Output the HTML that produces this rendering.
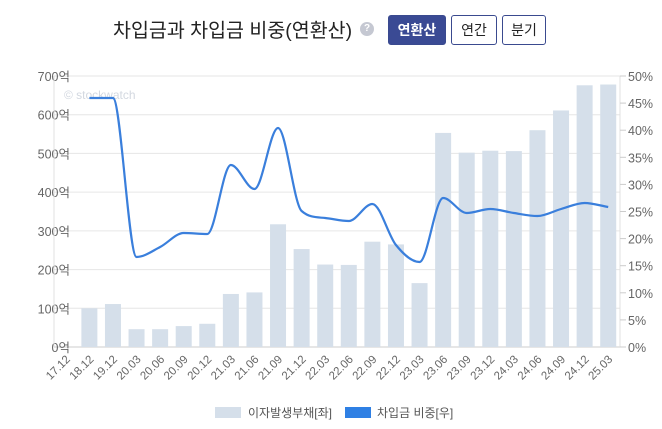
<!DOCTYPE html>
<html><head><meta charset="utf-8"><style>
body{margin:0;background:#fff;width:662px;height:429px;overflow:hidden;font-family:"Liberation Sans","Noto Sans CJK KR",sans-serif;}
.t{position:absolute;left:113px;top:14px;font-size:19.5px;color:#222;white-space:nowrap}
.q{position:absolute;left:360px;top:22px;width:14px;height:14px;border-radius:50%;background:#c5c8d2;color:#fff;font-size:10px;text-align:center;line-height:14px;font-weight:bold}
.b{position:absolute;top:15px;height:30px;border:1px solid #3a4a8f;border-radius:3px;box-sizing:border-box;font-size:14px;line-height:28px;text-align:center;color:#222;background:#fff}
</style></head><body>
<div class="t">차입금과 차입금 비중(연환산)</div>
<div class="q">?</div>
<div class="b" style="left:388px;width:58px;background:#3a4a94;color:#fff;font-weight:bold">연환산</div>
<div class="b" style="left:451px;width:46px">연간</div>
<div class="b" style="left:502px;width:44px">분기</div>
<svg id="s" width="662" height="429" style="position:absolute;left:0;top:0" font-family="Liberation Sans, Noto Sans CJK KR, sans-serif"></svg>
<script>
var s=document.getElementById('s'),h='';
var L=54,R=620,T=76,B=347,cw=(R-L)/24;
for(var i=0;i<=7;i++){var y=B-i*(B-T)/7;h+='<line x1="'+L+'" x2="'+R+'" y1="'+y+'" y2="'+y+'" stroke="'+(i==0?'#ccc':'#e6e6e6')+'"/>';
h+='<text x="70" y="'+(y+5)+'" font-size="12.5" fill="#666" text-anchor="end">'+(i*100)+'억</text>';}
h+='<line x1="'+L+'" x2="'+L+'" y1="'+T+'" y2="'+B+'" stroke="#e0e0e0"/><line x1="'+R+'" x2="'+R+'" y1="'+T+'" y2="'+B+'" stroke="#e0e0e0"/>';
for(var i=0;i<=10;i++){var y=B-i*(B-T)/10;h+='<line x1="'+R+'" x2="'+(R+6)+'" y1="'+y+'" y2="'+y+'" stroke="#ccc"/>';
h+='<text x="628" y="'+(y+5)+'" font-size="12.5" fill="#666">'+(i*5)+'%</text>';}
h+='<text x="64" y="99" font-size="12" fill="#d3d8e0">© stockwatch</text>';
var lab=['17.12','18.12','19.12','20.03','20.06','20.09','20.12','21.03','21.06','21.09','21.12','22.03','22.06','22.09','22.12','23.03','23.06','23.09','23.12','24.03','24.06','24.09','24.12','25.03'];
var v=[0,100,111,46,46,54,60,137,141,317,253,213,212,272,265,165,553,502,507,506,560,611,676,678];
var ly=[null,98,98,257,247,233,234,165,189,128,211,218,221,204,245,262,198,213,209,213,216,209,203,207];
for(var i=0;i<24;i++){var cx=L+cw*(i+0.5);
if(v[i]>0){var bh=v[i]*(B-T)/700;h+='<rect x="'+(cx-8)+'" y="'+(B-bh)+'" width="16" height="'+bh+'" fill="#d5dfea"/>';}
h+='<text transform="translate('+(cx+5)+',360) rotate(-45)" font-size="11.5" fill="#666" text-anchor="end">'+lab[i]+'</text>';}
var X=[],Y=[];for(var i=1;i<24;i++){X.push(L+cw*(i+0.5));Y.push(ly[i]);}
var n=X.length,dk=[],m=[];
for(var i=0;i<n-1;i++)dk.push((Y[i+1]-Y[i])/(X[i+1]-X[i]));
m[0]=dk[0];m[n-1]=dk[n-2];
for(var i=1;i<n-1;i++){m[i]=(dk[i-1]*dk[i]<=0)?0:(dk[i-1]+dk[i])/2;}
for(var i=0;i<n-1;i++){if(dk[i]==0){m[i]=0;m[i+1]=0;continue;}var a=m[i]/dk[i],b=m[i+1]/dk[i],t=a*a+b*b;if(t>9){var q=3/Math.sqrt(t);m[i]=q*a*dk[i];m[i+1]=q*b*dk[i];}}
var d='M'+X[0]+','+Y[0];
for(var i=0;i<n-1;i++){var hx=(X[i+1]-X[i])/3;d+=' C'+(X[i]+hx)+','+(Y[i]+m[i]*hx)+' '+(X[i+1]-hx)+','+(Y[i+1]-m[i+1]*hx)+' '+X[i+1]+','+Y[i+1];}
h+='<path d="'+d+'" fill="none" stroke="#3a7fdc" stroke-width="2.2"/>';
h+='<rect x="215" y="407" width="26" height="11" fill="#d5dfea"/><text x="248" y="417" font-size="12" fill="#555">이자발생부채[좌]</text>';
h+='<rect x="345" y="407" width="26" height="11" fill="#2f80e4"/><text x="377" y="417" font-size="12" fill="#555">차입금 비중[우]</text>';
s.innerHTML=h;
</script>
</body></html>
